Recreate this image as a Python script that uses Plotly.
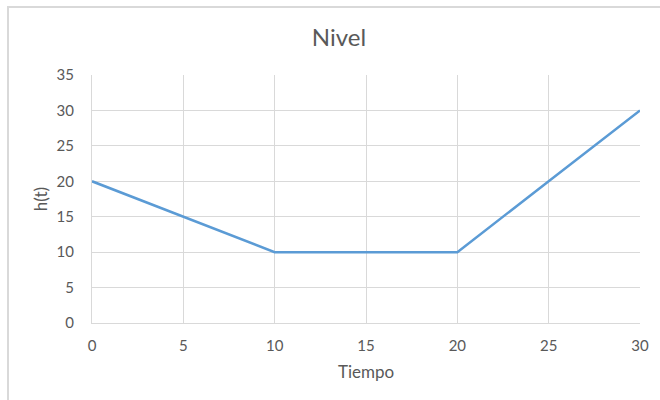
import plotly.graph_objects as go

tiempo = [0, 5, 10, 15, 20, 25, 30]
nivel = [20, 15, 10, 10, 10, 20, 30]
x_ticks = [0, 5, 10, 15, 20, 25, 30]
y_ticks = [0, 5, 10, 15, 20, 25, 30, 35]

FONT = "Lato, Calibri, 'Liberation Sans', sans-serif"
TXT = "#595959"
GRID = "#D9D9D9"

fig = go.Figure()
fig.add_trace(go.Scatter(
    x=tiempo, y=nivel, mode="lines",
    line=dict(color="#5B9BD5", width=2.5),
    showlegend=False, hoverinfo="skip",
))

fig.update_layout(
    width=660, height=400,
    margin=dict(l=92, r=20, t=75, b=77),
    paper_bgcolor="white", plot_bgcolor="white",
    font=dict(family=FONT, color=TXT, size=12),
    title=dict(text="Nivel", x=(339 - 92) / 548, xref="paper", xanchor="center",
               y=1 - 38 / 400, yanchor="middle",
               font=dict(size=24, color=TXT, family=FONT)),
    xaxis=dict(
        range=[0, 30], tickvals=x_ticks, showgrid=True, gridcolor=GRID, gridwidth=1,
        zeroline=False, showline=True, linecolor=GRID, linewidth=1,
        ticks="", ticklabelstandoff=9, tickfont=dict(size=15, color=TXT),
        title=dict(text="Tiempo", font=dict(size=17, color=TXT), standoff=13),
        fixedrange=True,
    ),
    yaxis=dict(
        range=[0, 35], tickvals=y_ticks, showgrid=True, gridcolor=GRID, gridwidth=1,
        zeroline=False, showline=True, linecolor=GRID, linewidth=1,
        ticks="", ticklabelstandoff=14, tickfont=dict(size=15, color=TXT),
        title=dict(text="h(t)", font=dict(size=17, color=TXT), standoff=4),
        fixedrange=True,
    ),
    shapes=[dict(
        type="rect", xref="paper", yref="paper",
        x0=(8 - 92) / 548, x1=1.2, y0=-0.5, y1=(323 - 7) / 248,
        line=dict(color="#D9D9D9", width=2), fillcolor="rgba(0,0,0,0)", layer="below",
    )],
)

fig.write_html("out.html")
